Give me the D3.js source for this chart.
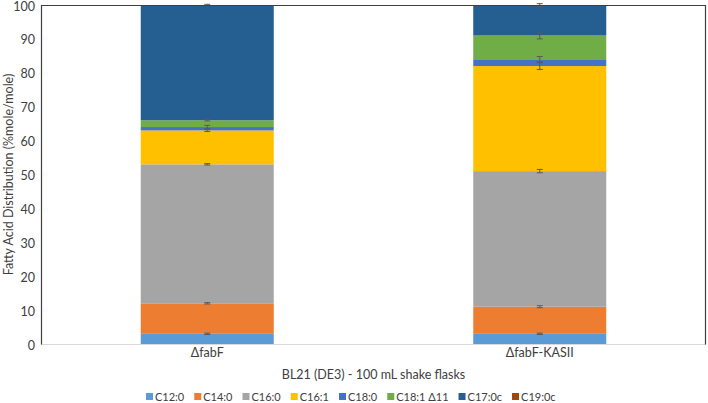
<!DOCTYPE html>
<html><head><meta charset="utf-8">
<script src="https://cdn.jsdelivr.net/npm/d3@7"></script>
<style>
body{margin:0;background:#fff;}
text{font-family:Lato,"Open Sans","Liberation Sans",sans-serif;fill:#404040;}
</style></head>
<body><svg id="c" width="708" height="403"></svg>
<script>
const categories = ["ΔfabF", "ΔfabF-KASII"];
const seriesNames = ["C12:0","C14:0","C16:0","C16:1","C18:0","C18:1 Δ11","C17:0c","C19:0c"];
const colors = ["#5B9BD5","#ED7D31","#A5A5A5","#FFC000","#4472C4","#70AD47","#255E91","#9E480E"];
// values per series: [ΔfabF, ΔfabF-KASII]
const C12_0 = [3.0, 3.0];
const C14_0 = [9.0, 8.0];
const C16_0 = [41.0, 40.0];
const C16_1 = [10.0, 31.0];
const C18_0 = [1.0, 2.0];
const C18_1 = [2.0, 7.0];
const C17_0c = [34.0, 9.0];
const C19_0c = [0.0, 0.0];
// error (±) per series
const E12 = [0.2, 0.2];
const E14 = [0.2, 0.3];
const E16 = [0.2, 0.5];
const E161 = [0.3, 1.0];
const E180 = [0.5, 0.8];
const E181 = [0.2, 1.0];
const E17 = [0.2, 0.4];
const E19 = [0, 0];
const yTicks = [0,10,20,30,40,50,60,70,80,90,100];
const xTitle = "BL21 (DE3) - 100 mL shake flasks";
const yTitle = "Fatty Acid Distribution (%mole/mole)";

const values = [C12_0,C14_0,C16_0,C16_1,C18_0,C18_1,C17_0c,C19_0c];
const errs = [E12,E14,E16,E161,E180,E181,E17,E19];

const svg = d3.select("#c");
const L=41, R=706, T=5, B=344;
const x = d3.scaleBand().domain(categories).range([L,R]).paddingInner(0.6).paddingOuter(0.3);
const y = d3.scaleLinear().domain([0,100]).range([B,T]);

const table = categories.map((c,i)=>{const o={cat:c}; seriesNames.forEach((s,j)=>o[s]=values[j][i]); return o;});
const stack = d3.stack().keys(seriesNames)(table);

const g = svg.append("g");
stack.forEach((layer,j)=>{
  g.selectAll(null).data(layer).join("rect")
   .attr("x",d=>x(d.data.cat)).attr("width",x.bandwidth())
   .attr("y",d=>y(d[1])).attr("height",d=>y(d[0])-y(d[1]))
   .attr("fill",colors[j]);
});
// error bars
stack.forEach((layer,j)=>{
  layer.forEach((d,i)=>{
    if (values[j][i]<=0) return;
    const e=errs[j][i], cx=x(d.data.cat)+x.bandwidth()/2;
    const y1=y(d[1]+e), y2=y(d[1]-e);
    const eg=g.append("g").attr("stroke","#595959").attr("stroke-width",1);
    eg.append("line").attr("x1",cx).attr("x2",cx).attr("y1",y1).attr("y2",y2);
    eg.append("line").attr("x1",cx-3).attr("x2",cx+3).attr("y1",y1).attr("y2",y1);
    eg.append("line").attr("x1",cx-3).attr("x2",cx+3).attr("y1",y2).attr("y2",y2);
  });
});

// frame
svg.append("line").attr("x1",L).attr("x2",R).attr("y1",B+0.5).attr("y2",B+0.5).attr("stroke","#d9d9d9");
svg.append("path").attr("d",`M${L+0.5},${B+0.5}V${T+0.5}H${R-0.5}V${B+0.5}`).attr("fill","none").attr("stroke","#404040").attr("stroke-width",1.2);

const FF = "Lato, Open Sans, Liberation Sans, sans-serif";
// y axis
const ya = svg.append("g").attr("transform",`translate(${L},0)`)
  .call(d3.axisLeft(y).tickValues(yTicks).tickSize(0).tickPadding(6));
ya.select(".domain").remove();
ya.selectAll("text").attr("font-size",12.5).style("fill","#404040").attr("font-family",FF).attr("dy","0.4em");

// x axis labels
const xa = svg.append("g").attr("transform",`translate(0,${B})`)
  .call(d3.axisBottom(x).tickSize(0).tickPadding(4));
xa.select(".domain").remove();
xa.selectAll("text").attr("font-size",12.5).style("fill","#404040").attr("font-family",FF);

svg.append("text").attr("x",(L+R)/2).attr("y",379).attr("text-anchor","middle").attr("font-size",12.5).text(xTitle);
svg.append("text").attr("transform",`translate(13,${(T+B)/2}) rotate(-90)`).attr("text-anchor","middle").attr("font-size",12.5).text(yTitle);

// legend
const lg = svg.append("g").attr("transform","translate(0,397)");
let cx0 = 146;
seriesNames.forEach((s,j)=>{
  const it = lg.append("g").attr("transform",`translate(${cx0},0)`);
  it.append("rect").attr("x",0).attr("y",-4).attr("width",7).attr("height",7).attr("fill",colors[j]);
  const t = it.append("text").attr("x",9).attr("y",4).attr("font-size",11).text(s);
  cx0 += 9 + t.node().getComputedTextLength() + 10;
});
</script></body></html>
